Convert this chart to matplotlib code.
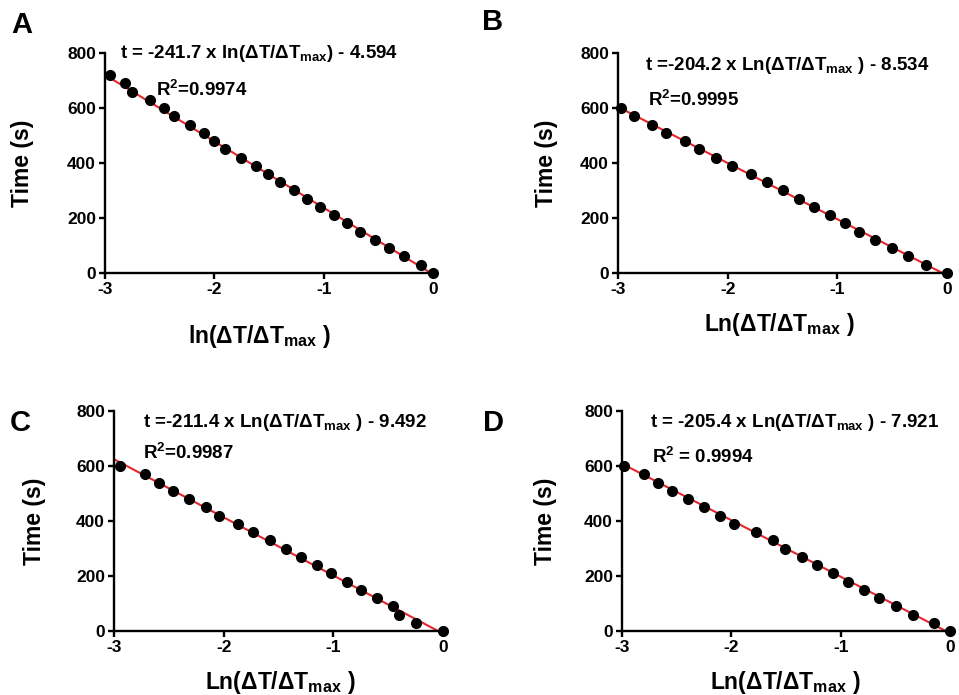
import matplotlib
matplotlib.use("Agg")
import matplotlib.pyplot as plt
import numpy as np

plt.rcParams["font.family"] = ["Liberation Sans", "DejaVu Sans"]
plt.rcParams["font.weight"] = "bold"
plt.rcParams["mathtext.default"] = "regular"
plt.rcParams["axes.unicode_minus"] = False

# panel A: 25 points, 0..720 s
lnA = [-2.955, -2.818, -2.757, -2.592, -2.458, -2.373, -2.220, -2.090, -2.001, -1.898,
       -1.758, -1.617, -1.511, -1.395, -1.270, -1.151, -1.036, -0.902, -0.789, -0.664,
       -0.533, -0.402, -0.265, -0.110, 0.0]
tA = [720, 690, 660, 630, 600, 570, 540, 510, 480, 450, 420, 390, 360, 330, 300, 270,
      240, 210, 180, 150, 120, 90, 60, 30, 0]

# panel B
lnB = [-2.973, -2.857, -2.687, -2.565, -2.389, -2.261, -2.106, -1.960, -1.784, -1.644,
       -1.495, -1.353, -1.210, -1.070, -0.930, -0.802, -0.660, -0.505, -0.356, -0.192, 0.0]
tB = [600, 570, 540, 510, 480, 450, 420, 390, 360, 330, 300, 270, 240, 210, 180, 150,
      120, 90, 60, 30, 0]

# panel C
lnC = [-2.942, -2.717, -2.593, -2.462, -2.319, -2.164, -2.043, -1.872, -1.733, -1.581,
       -1.432, -1.292, -1.149, -1.018, -0.878, -0.745, -0.602, -0.456, -0.404, -0.246, 0.0]
tC = [600, 570, 540, 510, 480, 450, 420, 390, 360, 330, 300, 270, 240, 210, 180, 150,
      120, 90, 60, 30, 0]

# panel D
lnD = [-2.979, -2.802, -2.674, -2.540, -2.397, -2.247, -2.107, -1.979, -1.778, -1.620,
       -1.507, -1.352, -1.212, -1.072, -0.935, -0.789, -0.649, -0.497, -0.335, -0.146, 0.0]
tD = [600, 570, 540, 510, 480, 450, 420, 390, 360, 330, 300, 270, 240, 210, 180, 150,
      120, 90, 60, 30, 0]

slopes = [-241.7, -204.2, -211.4, -205.4]
intercepts = [-4.594, -8.534, -9.492, -7.921]

eqs = ["t = -241.7 x ln(ΔT/Δ$T_{max}$) - 4.594",
       "t =-204.2 x Ln(ΔT/Δ$T_{max}$ ) - 8.534",
       "t =-211.4 x Ln(ΔT/Δ$T_{max}$ ) - 9.492",
       "t = -205.4 x Ln(ΔT/Δ$T_{max}$ ) - 7.921"]
r2s = ["R$^2$=0.9974", "R$^2$=0.9995", "R$^2$=0.9987", "R$^2$ = 0.9994"]
xlabels = ["ln(ΔT/Δ$T_{max}$ )", "Ln(ΔT/Δ$T_{max}$ )", "Ln(ΔT/Δ$T_{max}$ )", "Ln(ΔT/Δ$T_{max}$ )"]
letters = ["A", "B", "C", "D"]

xs = [lnA, lnB, lnC, lnD]
ts = [tA, tB, tC, tD]

W, H = 959, 695
fig = plt.figure(figsize=(W / 100, H / 100), dpi=100)

# axes boxes in pixels: left, right, top, bottom
boxes = [(105, 433, 53, 273), (618, 947, 53, 273), (114, 443, 411, 631), (622, 950, 411, 631)]
eq_pos = [(0.046, 1.0), (0.082, 0.945), (0.088, 0.95), (0.085, 0.95)]
r2_pos = [(0.155, 0.83), (0.091, 0.786), (0.088, 0.81), (0.091, 0.79)]
ylab_x = [-0.253, -0.218, -0.243, -0.232]
xlab = [(0.47, -0.29), (0.49, -0.236), (0.505, -0.236), (0.497, -0.236)]
letter_pos = [(22, 25), (493, 22), (20, 423), (493, 423)]

for i in range(4):
    l, r, t, b = boxes[i]
    ax = fig.add_axes([l / W, 1 - b / H, (r - l) / W, (b - t) / H])
    xfit = np.array([-3.0, 0.0])
    ax.plot(xfit, slopes[i] * xfit + intercepts[i], color="#e8262b", lw=1.5, zorder=2)
    ax.plot(xs[i], ts[i], "o", color="black", ms=7, clip_on=False, zorder=3)
    ax.set_xlim(-3, 0)
    ax.set_ylim(0, 800)
    ax.set_xticks([-3, -2, -1, 0])
    ax.set_yticks([0, 200, 400, 600, 800])
    for s in ["top", "right"]:
        ax.spines[s].set_visible(False)
    for s in ["left", "bottom"]:
        ax.spines[s].set_linewidth(1.7)
    ax.tick_params(width=1.7, length=4.5, labelsize=12.5, pad=2)
    for lab in ax.get_xticklabels() + ax.get_yticklabels():
        lab.set_fontweight("bold")
    ax.set_ylabel("Time (s)", fontsize=16.5, fontweight="bold", va="center")
    ax.yaxis.set_label_coords(ylab_x[i], 0.5)
    ax.set_xlabel(xlabels[i], fontsize=16.5, fontweight="bold", va="center")
    ax.xaxis.set_label_coords(*xlab[i])
    ax.text(eq_pos[i][0], eq_pos[i][1], eqs[i], transform=ax.transAxes, fontsize=13.5,
            fontweight="bold", va="center", ha="left")
    ax.text(r2_pos[i][0], r2_pos[i][1], r2s[i], transform=ax.transAxes, fontsize=13.5,
            fontweight="bold", va="center", ha="left")
    fig.text(letter_pos[i][0] / W, 1 - letter_pos[i][1] / H, letters[i], fontsize=21,
             fontweight="bold", ha="center", va="center")

fig.savefig("out.png", dpi=100)
